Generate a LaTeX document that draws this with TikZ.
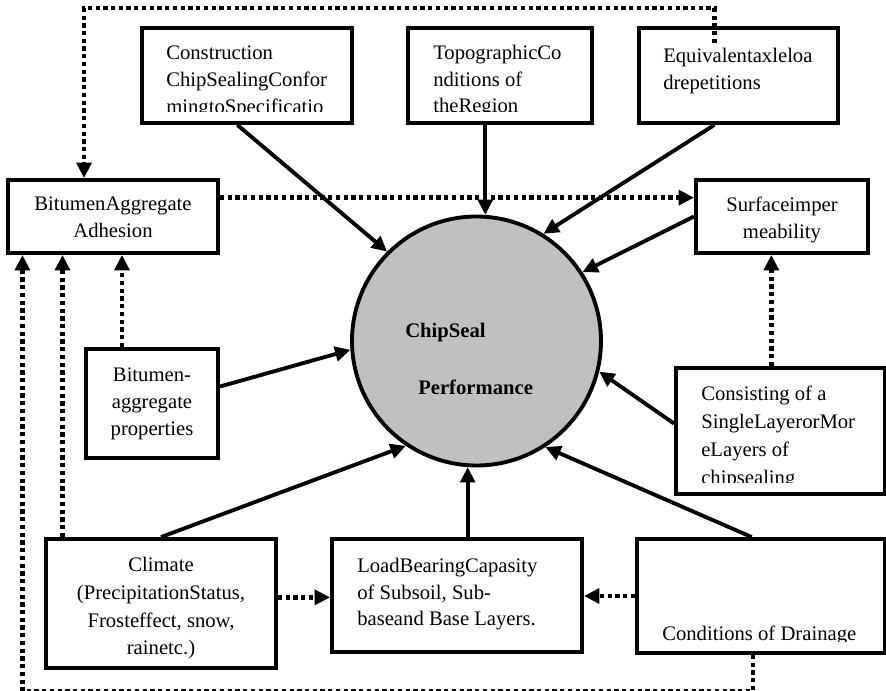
\documentclass[tikz,border=0pt]{standalone}
\usepackage{fontspec}
\setmainfont{Liberation Serif}
\usetikzlibrary{arrows.meta,calc}

\definecolor{perfgray}{RGB}{192,192,192}

\tikzset{
  factor/.style={draw, rectangle, line width=2.9pt, inner sep=0pt},
  boxtext/.style={font=\fontsize{15.5}{19.9}\selectfont, inner sep=0pt, align=left},
  widetext/.style={font=\fontsize{15.5}{20.8}\selectfont, inner sep=0pt},
  flow/.style={line width=2.9pt, -{Triangle[length=11.5pt,width=11pt]}},
  link/.style={line width=3.3pt, dash pattern=on 3.2pt off 2.6pt, -{Triangle[length=11.5pt,width=11pt]}},
}

\begin{document}
\begin{tikzpicture}[x=0.75pt,y=0.75pt,yscale=-1,xscale=1]
\useasboundingbox (0,0) rectangle (886,691);

%Shape: Circle
\node[circle, draw, line width=2.9pt, fill=perfgray, minimum size=186.75pt, inner sep=0pt] (perf) at (476.5,341) {};
% Text Node
\node[boxtext, font=\fontsize{15.5}{19.9}\selectfont\bfseries, anchor=base west] (perftop) at (405,338) {ChipSeal};
% Text Node
\node[boxtext, font=\fontsize{15.5}{19.9}\selectfont\bfseries, anchor=base west] (perfbottom) at (418,395) {Performance};

%Shape: Rectangle
\node[factor, minimum width=157.5pt, minimum height=71.25pt] (constr) at (247,75.5) {};
\node[factor, minimum width=138pt, minimum height=71.25pt] (topo) at (500,75.5) {};
\node[factor, minimum width=149.25pt, minimum height=71.25pt] (equiv) at (738.5,75.5) {};
\node[factor, minimum width=157.5pt, minimum height=54.75pt] (adhes) at (113,216.5) {};
\node[factor, minimum width=129pt, minimum height=54.75pt] (surf) at (782,216.5) {};
\node[factor, minimum width=99pt, minimum height=81.75pt] (bprop) at (152,403.5) {};
\node[factor, minimum width=156.75pt, minimum height=94.5pt] (layers) at (780.5,431) {};
\node[factor, minimum width=172.5pt, minimum height=96.75pt] (climate) at (161,603.5) {};
\node[factor, minimum width=187.5pt, minimum height=84.75pt] (load) at (457,595.5) {};
\node[factor, minimum width=186pt, minimum height=85.5pt] (drain) at (761,596) {};

% Text Node (cut off at the bottom margin)
\begin{scope}
\clip (constr.north west) rectangle ($(constr.south east)+(0,-13)$);
\node[boxtext, anchor=north west] (constrtext) at (166,46) {Construction\\ChipSealingConfor\\mingtoSpecificatio};
\end{scope}
\begin{scope}
\clip (topo.north west) rectangle ($(topo.south east)+(0,-13)$);
\node[boxtext, anchor=north west] (topotext) at (433,45) {TopographicCo\\nditions of\\theRegion};
\end{scope}
\begin{scope}
\clip (layers.north west) rectangle ($(layers.south east)+(0,-13)$);
\node[widetext, align=left, anchor=north west] (layerstext) at (701,386) {Consisting of a\\SingleLayerorMor\\eLayers of\\chipsealing};
\end{scope}
\begin{scope}
\clip (drain.north west) rectangle ($(drain.south east)+(0,-13)$);
\node[boxtext, anchor=north west] (draintext) at (662,626) {Conditions of Drainage};
\end{scope}

% Text Node
\node[boxtext, anchor=north west] (equivtext) at (663,48) {Equivalentaxleloa\\drepetitions};
\node[boxtext, align=center, anchor=north] (adhestext) at (113,197) {BitumenAggregate\\Adhesion};
\node[boxtext, align=center, anchor=north] (surftext) at (782,197) {Surfaceimper\\meability};
\node[boxtext, align=center, anchor=north] (bproptext) at (152,368) {Bitumen-\\aggregate\\properties};
\node[widetext, align=center, anchor=north] (climatetext) at (161,557) {Climate\\(PrecipitationStatus,\\Frosteffect, snow,\\rainetc.)};
\node[boxtext, anchor=north west] (loadtext) at (357,558) {LoadBearingCapasity\\of Subsoil, Sub-\\baseand Base Layers.};

%Straight Lines
\draw[flow] (constr.-101) -- (perf.135);
\draw[flow] (perf.86 |- topo.south) -- (perf.86);
\draw[flow] (equiv.-116) -- (perf.58);
\draw[flow] (surf.west) -- (perf.33);
\draw[flow] (layers.176) -- (perf.-14);
\draw[flow] (drain.99) -- (perf.-57);
\draw[flow] (perf.-94 |- load.north) -- (perf.-94);
\draw[flow] (climate.north) -- (perf.-124);
\draw[flow] (bprop.14) -- (perf.184);

%Dotted Lines
\draw[link] (adhes.10) -- (adhes.10 -| surf.west);
\draw[link] (bprop.118) -- (bprop.118 |- adhes.south);
\draw[link] (climate.146) -- (climate.146 |- adhes.south);
\draw[link] (climate.3) -- (climate.3 -| load.west);
\draw[link] (drain.west) -- (drain.west -| load.east);
\draw[link] (layers.98) -- (layers.98 |- surf.south);
\draw[link] (drain.-98) -- ++(0,36) -| (adhes.-157);
\draw[link] (equiv.116) ++(0,17) -- ++(0,-35) -| (adhes.127.5);

\end{tikzpicture}
\end{document}
